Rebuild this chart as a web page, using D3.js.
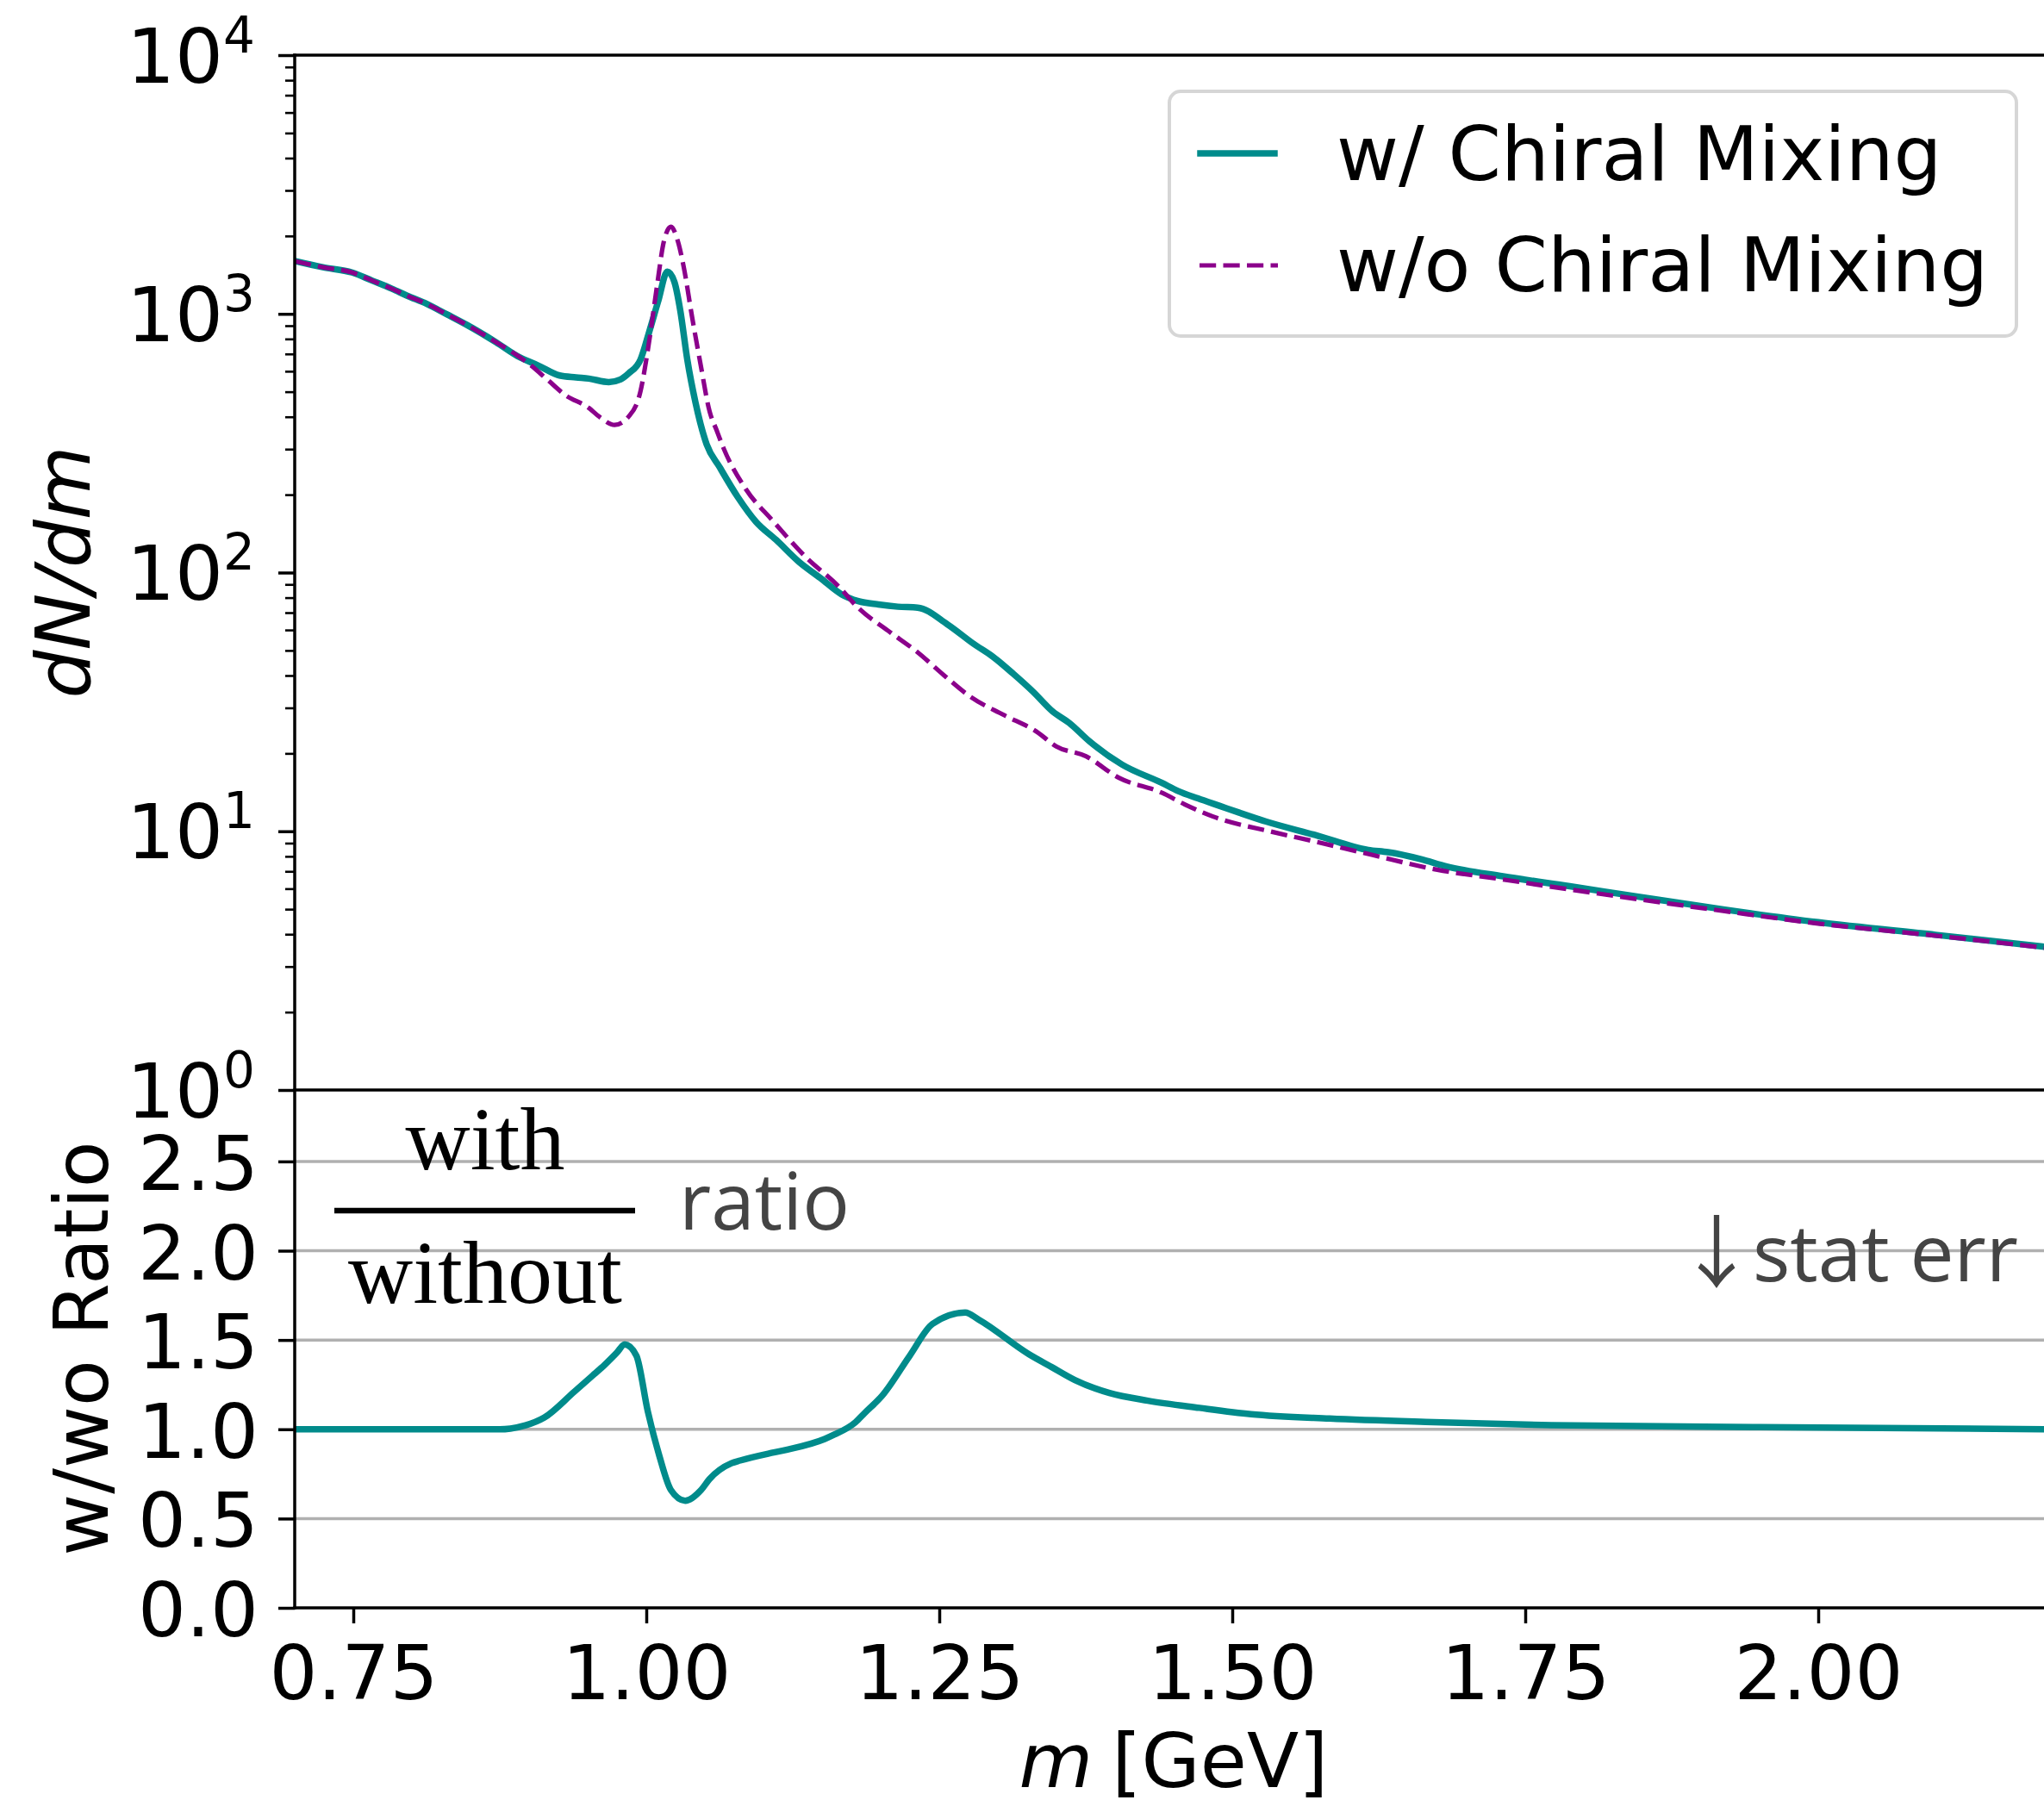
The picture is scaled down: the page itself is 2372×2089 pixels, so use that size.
<!DOCTYPE html>
<html>
<head>
<meta charset="utf-8">
<script src="https://cdn.jsdelivr.net/npm/d3@7"></script>
<style>
  html, body { margin: 0; padding: 0; background: #fff; }
  svg { display: block; }
</style>
</head>
<body>
<svg id="chart" width="2372" height="2089"></svg>
<script>
// ---------------- data ----------------
const massWith = [0.700,0.724,0.749,0.766,0.783,0.796,0.813,0.830,0.847,0.872,0.890,0.908,0.926,0.940,0.951,0.968,0.978,0.985,0.995,1.002,1.010,1.018,1.024,1.029,1.035,1.042,1.0515,1.0627,1.078,1.0937,1.1106,1.1303,1.1485,1.1668,1.1809,1.198,1.2147,1.2315,1.2569,1.2794,1.2963,1.3132,1.3301,1.3469,1.361,1.378,1.406,1.4397,1.4539,1.4707,1.49,1.506,1.529,1.571,1.616,1.633,1.661,1.683,1.731,1.788,1.844,1.919,2.0,2.1,2.2];
const dNdmWith = [1600,1514,1445,1345,1250,1175,1091,995,906,776,687,631,578,568,562,545,558,589,665,838,1113,1456,1328,1031,665,454,313,255,196,157,134,110,95.3,82.3,77.6,75.3,73.8,73.2,63.1,53.0,47.1,40.6,34.6,29.0,26.2,22.3,18.1,15.4,14.3,13.4,12.5,11.8,10.9,9.67,8.47,8.3,7.8,7.31,6.70,6.13,5.61,4.99,4.45,3.98,3.55];

const massWithout = [0.700,0.724,0.749,0.766,0.783,0.796,0.813,0.830,0.847,0.872,0.890,0.900,0.915,0.931,0.951,0.960,0.973,0.985,0.995,1.002,1.009,1.015,1.021,1.027,1.032,1.039,1.046,1.054,1.060,1.066,1.085,1.1077,1.1359,1.164,1.1809,1.2063,1.2315,1.254,1.2766,1.3047,1.3329,1.3498,1.3751,1.4032,1.4398,1.4595,1.4836,1.534,1.571,1.619,1.675,1.731,1.788,1.919,2.0,2.1,2.2];
const dNdmWithout = [1600,1514,1445,1345,1250,1175,1091,995,906,776,690,640,560,485,433,400,372,401,501,759,1268,1905,2172,1905,1514,977,650,420,355,302,210,159,115,88.5,73,59.6,49.2,40.1,33.1,28.2,24.3,21.3,19.5,16.1,14.1,12.7,11.4,9.95,9.12,8.11,7.1,6.51,5.96,4.92,4.40,3.95,3.52];

const massRatio = [0.70,0.80,0.875,0.884,0.897,0.9128,0.9385,0.9554,0.9643,0.975,0.9816,0.9915,1.0013,1.0112,1.021,1.0332,1.0469,1.0538,1.0727,1.0801,1.1088,1.1195,1.1523,1.1604,1.1786,1.1862,1.2015,1.2246,1.2442,1.2721,1.2836,1.3263,1.346,1.3657,1.3952,1.428,1.472,1.516,1.583,1.672,1.772,1.95,2.2];
const ratioVals = [1.0,1.0,1.0,1.004,1.022,1.065,1.21,1.308,1.36,1.43,1.475,1.413,1.10,0.85,0.66,0.600,0.661,0.72,0.81,0.825,0.87,0.885,0.946,0.97,1.04,1.09,1.19,1.41,1.59,1.654,1.614,1.421,1.348,1.276,1.203,1.16,1.12,1.085,1.06,1.04,1.023,1.012,1.0];

const xTickVals = [0.75,1.00,1.25,1.50,1.75,2.00];
const yLogMajor = [1,10,100,1000,10000];
const yLogExponents = ["0","1","2","3","4"];
const yRatioTicks = [0.0,0.5,1.0,1.5,2.0,2.5];
const legendLabels = ["w/ Chiral Mixing","w/o Chiral Mixing"];

// ---------------- layout ----------------
const teal = "#008b8b", purple = "#8b008b";
const FS = 88;
const svg = d3.select("#chart");
const left = 342, right = 2382, top1 = 64, mid = 1265, bot = 1866;

const x = d3.scaleLinear().domain([0.7, 2.2]).range([left, right]);
const yTop = d3.scaleLog().domain([1, 1e4]).range([mid, top1]);
const yRat = d3.scaleLinear().domain([0, 2.9]).range([bot, mid]);

const defs = svg.append("defs");
defs.append("clipPath").attr("id","clipTop").append("rect")
  .attr("x", left).attr("y", top1).attr("width", right-left).attr("height", mid-top1);
defs.append("clipPath").attr("id","clipRat").append("rect")
  .attr("x", left).attr("y", mid).attr("width", right-left).attr("height", bot-mid);

// ----- ratio grid -----
svg.append("g").selectAll("line").data(yRatioTicks.filter(d => d > 0)).join("line")
  .attr("x1", left).attr("x2", right)
  .attr("y1", d => yRat(d)).attr("y2", d => yRat(d))
  .attr("stroke", "#b0b0b0").attr("stroke-width", 3.5);

// ----- lines -----
const lineTop = d3.line().x(d => x(d[0])).y(d => yTop(d[1])).curve(d3.curveMonotoneX);
const lineRat = d3.line().x(d => x(d[0])).y(d => yRat(d[1])).curve(d3.curveMonotoneX);

svg.append("path").attr("clip-path","url(#clipTop)")
  .datum(massWith.map((m,i) => [m, dNdmWith[i]]))
  .attr("d", lineTop).attr("fill","none").attr("stroke", teal)
  .attr("stroke-width", 7.5).attr("stroke-linejoin","round");

svg.append("path").attr("clip-path","url(#clipTop)")
  .datum(massWithout.map((m,i) => [m, dNdmWithout[i]]))
  .attr("d", lineTop).attr("fill","none").attr("stroke", purple)
  .attr("stroke-width", 5.2).attr("stroke-dasharray","19.2,8.3").attr("stroke-linejoin","round");

svg.append("path").attr("clip-path","url(#clipRat)")
  .datum(massRatio.map((m,i) => [m, ratioVals[i]]))
  .attr("d", lineRat).attr("fill","none").attr("stroke", teal)
  .attr("stroke-width", 7.5).attr("stroke-linejoin","round");

// ----- axes -----
function styleAxis(g, w) {
  g.select(".domain").remove();
  g.selectAll(".tick line").attr("stroke","#000").attr("stroke-width", w);
  g.attr("font-family", "'DejaVu Sans', sans-serif").attr("font-size", FS);
  g.selectAll(".tick text").attr("fill", "#000");
}

// top log axis: minor ticks
const minor = [];
for (let e = 0; e < 4; e++) for (let k = 2; k <= 9; k++) minor.push(k * Math.pow(10, e));
const gMinor = svg.append("g").attr("transform", `translate(${left},0)`)
  .call(d3.axisLeft(yTop).tickValues(minor).tickSize(11).tickFormat(""));
styleAxis(gMinor, 2.6);

const gTopY = svg.append("g").attr("transform", `translate(${left},0)`)
  .call(d3.axisLeft(yTop).tickValues(yLogMajor).tickSize(19).tickFormat(""));
styleAxis(gTopY, 3.5);
gTopY.selectAll(".tick").each(function(d, i) {
  const t = d3.select(this).append("text")
    .attr("x", -46).attr("y", 31).attr("text-anchor", "end").attr("fill", "#000");
  t.append("tspan").text("10");
  t.append("tspan").attr("dy", -35).attr("font-size", 58).text(yLogExponents[i]);
});

// ratio axis
const gRatY = svg.append("g").attr("transform", `translate(${left},0)`)
  .call(d3.axisLeft(yRat).tickValues(yRatioTicks).tickSize(19).tickPadding(23).tickFormat(d3.format(".1f")));
styleAxis(gRatY, 3.5);
gRatY.selectAll(".tick text").attr("dy", "0.37em");

// bottom x axis
const gX = svg.append("g").attr("transform", `translate(0,${bot})`)
  .call(d3.axisBottom(x).tickValues(xTickVals).tickSize(18).tickFormat(d3.format(".2f")));
styleAxis(gX, 3.5);
gX.selectAll(".tick text").attr("y", 106).attr("dy", 0);

// ----- spines -----
const spine = (x1,y1,x2,y2) => svg.append("line").attr("x1",x1).attr("y1",y1).attr("x2",x2).attr("y2",y2)
  .attr("stroke","#000").attr("stroke-width",3.5).attr("stroke-linecap","square");
spine(left, top1, right, top1);
spine(left, top1, left, bot);
spine(left, mid, right, mid);
spine(left, bot, right, bot);
spine(right, top1, right, bot);

// ----- axis labels -----
svg.append("text").attr("transform", "translate(104,664) rotate(-90)")
  .attr("text-anchor","middle").attr("font-family","'DejaVu Sans', sans-serif")
  .attr("font-size", FS).attr("font-style","italic").text("dN/dm");

svg.append("text").attr("transform", "translate(125,1565) rotate(-90)")
  .attr("text-anchor","middle").attr("font-family","'DejaVu Sans', sans-serif")
  .attr("font-size", FS).text("w/wo Ratio");

const xl = svg.append("text").attr("x", 1362).attr("y", 2074).attr("text-anchor","middle")
  .attr("font-family","'DejaVu Sans', sans-serif").attr("font-size", FS);
xl.append("tspan").attr("font-style","italic").text("m");
xl.append("tspan").attr("dx", -6).text(" [GeV]");

// ----- legend -----
const lg = svg.append("g");
lg.append("rect").attr("x",1357).attr("y",106).attr("width",983).attr("height",284).attr("rx",13)
  .attr("fill","#fff").attr("stroke","#d6d6d6").attr("stroke-width",4);
lg.append("line").attr("x1",1393).attr("x2",1479).attr("y1",178).attr("y2",178)
  .attr("stroke",teal).attr("stroke-width",7.5).attr("stroke-linecap","square");
lg.append("line").attr("x1",1392).attr("x2",1483).attr("y1",308).attr("y2",308)
  .attr("stroke",purple).attr("stroke-width",5.2).attr("stroke-dasharray","19.2,8.3");
lg.selectAll("text.lab").data(legendLabels).join("text").attr("class","lab")
  .attr("x",1551).attr("y",(d,i)=> i===0 ? 209 : 338)
  .attr("font-family","'DejaVu Sans', sans-serif").attr("font-size",FS).attr("fill","#000")
  .text(d=>d);

// ----- annotations -----
const serif = "'Liberation Serif', 'Times New Roman', serif";
svg.append("text").attr("x",563).attr("y",1357).attr("text-anchor","middle")
  .attr("font-family",serif).attr("font-size",104).text("with");
svg.append("line").attr("x1",388).attr("x2",737).attr("y1",1405).attr("y2",1405)
  .attr("stroke","#000").attr("stroke-width",6.5);
svg.append("text").attr("x",563).attr("y",1512).attr("text-anchor","middle")
  .attr("font-family",serif).attr("font-size",104).text("without");

svg.append("text").attr("x",788).attr("y",1427)
  .attr("font-family","'Open Sans', sans-serif").attr("font-size",91).attr("fill","#444").text("ratio");

const se = svg.append("text").attr("x",1992).attr("y",1487)
  .attr("font-family","'Open Sans', sans-serif").attr("font-size",91).attr("fill","#444");
se.append("tspan").attr("font-family","'Noto Sans CJK JP', sans-serif").attr("font-size",92)
  .attr("text-anchor","middle").text("↓");
se.append("tspan").attr("x",2034).attr("text-anchor","start").text("stat err");
</script>
</body>
</html>
